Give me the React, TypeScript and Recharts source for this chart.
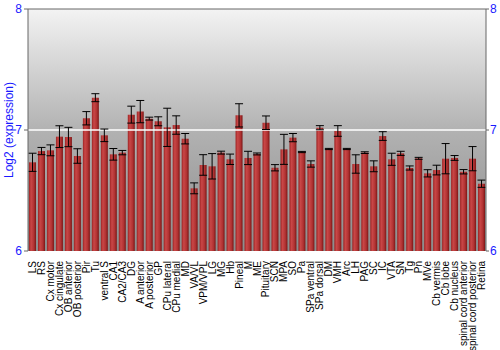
import React from 'react';
import { BarChart, Bar, XAxis, YAxis, CartesianGrid, ReferenceLine, ErrorBar, Label } from 'recharts';

const regions = [
  'LS', 'RS', 'Cx motor', 'Cx cingulate', 'OB anterior', 'OB posterior', 'Pir', 'Tu', 'ventral S', 'CA1',
  'CA2/CA3', 'DG', 'A anterior', 'A posterior', 'GP', 'CPu lateral', 'CPu medial', 'MD', 'VA/VL', 'VPM/VPL',
  'LG', 'MG', 'Hb', 'Pineal', 'M', 'ME', 'Pituitary', 'SCN', 'MPA', 'SO',
  'Pa', 'SPa ventral', 'SPa dorsal', 'DM', 'VMH', 'Arc', 'LH', 'PAG', 'SC', 'IC',
  'VTA', 'SN', 'Tg', 'Pn', 'MVe', 'Cb vermis', 'Cb lobe', 'Cb nucleus', 'spinal cord anterior', 'spinal cord posterior',
  'Retina',
];

const expression = [
  6.733, 6.826, 6.832, 6.945, 6.942, 6.785, 7.097, 7.267, 6.956, 6.799,
  6.813, 7.127, 7.152, 7.094, 7.072, 7.022, 7.041, 6.928, 6.518, 6.711,
  6.7, 6.813, 6.758, 7.121, 6.769, 6.802, 7.06, 6.688, 6.84, 6.937,
  6.818, 6.719, 7.019, 6.843, 6.992, 6.843, 6.719, 6.813, 6.7, 6.95,
  6.758, 6.807, 6.686, 6.766, 6.642, 6.669, 6.763, 6.769, 6.655, 6.763,
  6.556,
];

const stdErr = [
  0.075, 0.03, 0.045, 0.09, 0.08, 0.06, 0.055, 0.033, 0.052, 0.048,
  0.018, 0.07, 0.092, 0.012, 0.037, 0.158, 0.076, 0.043, 0.045, 0.085,
  0.105, 0.012, 0.043, 0.096, 0.055, 0.008, 0.056, 0.026, 0.124, 0.034,
  0.005, 0.026, 0.017, 0.005, 0.044, 0.005, 0.076, 0.007, 0.045, 0.036,
  0.05, 0.017, 0.017, 0.008, 0.03, 0.04, 0.125, 0.02, 0.018, 0.1,
  0.03,
];

const yTicks = [6, 7, 8];

const data = regions.map((name, i) => ({ name, value: expression[i], err: stdErr[i] }));

const FONT = 'Liberation Sans, Arial, sans-serif';

const RotatedTick = (props: any) => {
  const { x, y, payload } = props;
  return (
    <text
      x={0}
      y={0}
      transform={`translate(${x + 3.5},${y + 2}) rotate(-90)`}
      textAnchor="end"
      fontSize={10}
      fontFamily={FONT}
      fill="#000"
    >
      {payload.value}
    </text>
  );
};

const YLabel = (props: any) => {
  const { viewBox } = props;
  const cx = viewBox.x + 9;
  const cy = viewBox.y + viewBox.height / 2;
  return (
    <text
      x={cx}
      y={cy}
      transform={`rotate(-90 ${cx} ${cy})`}
      textAnchor="middle"
      dominantBaseline="central"
      fontSize={12}
      fontFamily={FONT}
      fill="#1a1aff"
    >
      Log2 (expression)
    </text>
  );
};

export default function App() {
  return (
    <div style={{ position: 'absolute', left: 0, top: 0, background: '#fff' }}>
      <BarChart
        width={500}
        height={350}
        data={data}
        margin={{ top: 9, right: 0, bottom: 0, left: 0 }}
        barCategoryGap={1}
      >
        <defs>
          <linearGradient id="bgGrad" x1="0" y1="0" x2="0" y2="1">
            <stop offset="0%" stopColor="#f3f3f3" />
            <stop offset="50%" stopColor="#b2b2b2" />
            <stop offset="100%" stopColor="#8c8c8c" />
          </linearGradient>
          <linearGradient id="barGrad" x1="0" y1="0" x2="1" y2="0">
            <stop offset="0%" stopColor="#9e2424" />
            <stop offset="30%" stopColor="#c94747" />
            <stop offset="70%" stopColor="#b03232" />
            <stop offset="100%" stopColor="#7c1616" />
          </linearGradient>
        </defs>
        <CartesianGrid horizontal={false} vertical={false} fill="url(#bgGrad)" stroke="none" />
        <ReferenceLine yAxisId="left" y={7} stroke="#ffffff" strokeWidth={1.5} />
        <ReferenceLine yAxisId="left" y={8} stroke="#666" strokeWidth={1} />
        <XAxis
          dataKey="name"
          interval={0}
          height={99}
          tick={<RotatedTick />}
          tickLine={false}
          axisLine={false}
        />
        <YAxis
          yAxisId="left"
          domain={[6, 8]}
          ticks={yTicks}
          width={28}
          tickSize={4}
          tick={{ fill: '#1a1aff', fontSize: 12, fontFamily: FONT }}
          stroke="#666"
          allowDataOverflow
        >
          <Label content={<YLabel />} />
        </YAxis>
        <YAxis
          yAxisId="right"
          orientation="right"
          domain={[6, 8]}
          ticks={yTicks}
          width={14}
          tickSize={3}
          tickMargin={1}
          tick={{ fill: '#1a1aff', fontSize: 12, fontFamily: FONT, textAnchor: 'start' }}
          stroke="#666"
          allowDataOverflow
        />
        <Bar yAxisId="left" dataKey="value" fill="url(#barGrad)" isAnimationActive={false}>
          <ErrorBar dataKey="err" width={4} stroke="#000" strokeWidth={1} direction="y" />
        </Bar>
      </BarChart>
    </div>
  );
}
